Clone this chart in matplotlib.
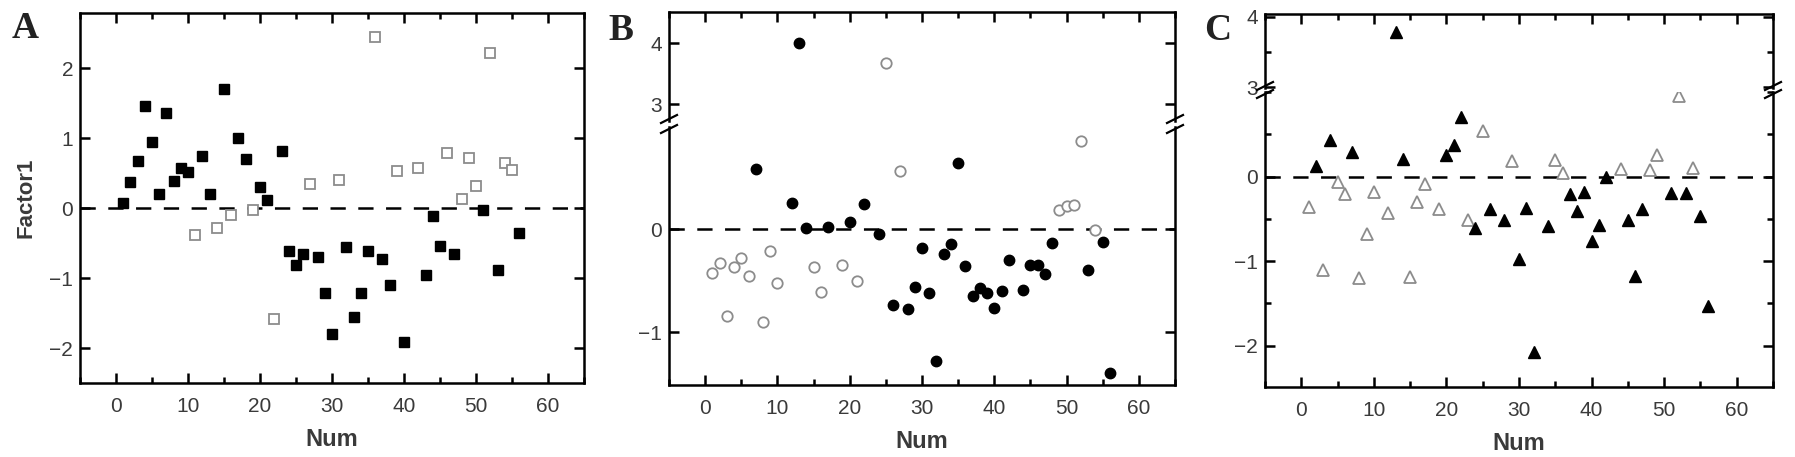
import matplotlib
matplotlib.use("Agg")
import matplotlib.pyplot as plt
from matplotlib.ticker import MultipleLocator, FixedLocator
from matplotlib.lines import Line2D

# ---------------- data ----------------
A_filled_x = [1, 2, 3, 4, 5, 6, 7, 8, 9, 10, 12, 13, 15, 17, 18, 20, 21, 23, 24, 25,
              26, 28, 29, 30, 32, 33, 34, 35, 37, 38, 40, 43, 44, 45, 47, 51, 53, 56]
A_filled_y = [0.08, 0.38, 0.67, 1.46, 0.95, 0.20, 1.36, 0.39, 0.57, 0.51, 0.74, 0.20, 1.71,
              1.00, 0.70, 0.30, 0.12, 0.82, -0.61, -0.82, -0.66, -0.70, -1.22, -1.80, -0.55,
              -1.55, -1.21, -0.61, -0.72, -1.10, -1.91, -0.96, -0.11, -0.54, -0.66, -0.02,
              -0.88, -0.36]
A_open_x = [11, 14, 16, 19, 22, 27, 31, 36, 39, 42, 46, 48, 49, 50, 52, 54, 55]
A_open_y = [-0.38, -0.28, -0.10, -0.03, -1.59, 0.34, 0.40, 2.45, 0.53, 0.57, 0.79, 0.13,
            0.71, 0.31, 2.22, 0.64, 0.54]

B_filled_x = [7, 12, 13, 14, 17, 20, 22, 24, 26, 28, 29, 30, 31, 32, 33, 34, 35, 36, 37, 38,
              39, 40, 41, 42, 44, 45, 46, 47, 48, 53, 55, 56]
B_filled_y = [0.58, 0.25, 4.00, 0.01, 0.02, 0.07, 0.24, -0.05, -0.73, -0.77, -0.56, -0.18,
              -0.62, -1.28, -0.24, -0.14, 0.64, -0.36, -0.65, -0.57, -0.62, -0.76, -0.60,
              -0.30, -0.59, -0.35, -0.35, -0.43, -0.13, -0.40, -0.12, -1.39]
B_open_x = [1, 2, 3, 4, 5, 6, 8, 9, 10, 15, 16, 19, 21, 25, 27, 49, 50, 51, 52, 54]
B_open_y = [-0.42, -0.33, -0.84, -0.37, -0.28, -0.45, -0.90, -0.21, -0.52, -0.37, -0.61,
            -0.35, -0.50, 3.67, 0.56, 0.19, 0.22, 0.23, 0.85, -0.01]

C_filled_x = [2, 4, 7, 13, 14, 20, 21, 22, 24, 26, 28, 30, 31, 32, 34, 37, 38, 39, 40, 41,
              42, 45, 46, 47, 51, 53, 55, 56]
C_filled_y = [0.13, 0.43, 0.29, 3.79, 0.21, 0.25, 0.37, 0.71, -0.61, -0.38, -0.51, -0.97,
              -0.37, -2.08, -0.58, -0.21, -0.41, -0.18, -0.76, -0.57, -0.01, -0.51, -1.18,
              -0.38, -0.20, -0.19, -0.47, -1.53]
C_open_x = [1, 3, 5, 6, 8, 9, 10, 12, 15, 16, 17, 19, 23, 25, 29, 35, 36, 44, 48, 49, 52, 54]
C_open_y = [-0.36, -1.11, -0.07, -0.21, -1.20, -0.68, -0.18, -0.43, -1.19, -0.30, -0.09,
            -0.38, -0.51, 0.54, 0.18, 0.20, 0.04, 0.09, 0.08, 0.25, 0.95, 0.10]

x_ticks = [0, 10, 20, 30, 40, 50, 60]
panel_letters = ["A", "B", "C"]
x_label = "Num"
y_label = "Factor1"

# ---------------- style ----------------
plt.rcParams["font.family"] = ["Liberation Sans", "DejaVu Sans"]
plt.rcParams["lines.scale_dashes"] = False
TXT = "#3a3a3a"
GRAY = "#8c8c8c"
LW = 1.8
W, H = 1795, 457
TICK_FS = 15
LABEL_FS = 17

fig = plt.figure(figsize=(W / 100, H / 100), dpi=100)


def rect(x0, x1, ytop, ybot):
    return [x0 / W, 1 - ybot / H, (x1 - x0) / W, (ybot - ytop) / H]


def style(ax, bottom=True, top=True, yminor=None):
    for s in ax.spines.values():
        s.set_linewidth(LW)
    ax.set_xlim(-5, 65)
    ax.xaxis.set_major_locator(FixedLocator(x_ticks))
    ax.xaxis.set_minor_locator(MultipleLocator(5))
    if yminor:
        ax.yaxis.set_minor_locator(MultipleLocator(yminor))
    ax.tick_params(which="both", direction="in", top=top, bottom=bottom, left=True,
                   right=True, width=LW, colors="black", labelcolor=TXT)
    ax.tick_params(which="major", length=7)
    ax.tick_params(which="minor", length=4)
    ax.tick_params(axis="x", labelsize=TICK_FS, pad=10, labelbottom=bottom)
    ax.tick_params(axis="y", labelsize=TICK_FS, pad=5)


def draw(ax, fx, fy, ox, oy, marker, ms):
    ax.plot(ox, oy, linestyle="none", marker=marker, ms=ms, mfc="white", mec=GRAY,
            mew=1.3, zorder=3)
    ax.plot(fx, fy, linestyle="none", marker=marker, ms=ms, mfc="black", mec="black",
            mew=1.0, zorder=4)


def dashed(ax):
    ax.axhline(0, color="black", lw=LW, dashes=(11, 9), zorder=2)


def xlab(ax):
    ax.set_xlabel(x_label, fontsize=LABEL_FS, fontweight="bold", color=TXT, labelpad=9)


def breakmarks(x0, x1, y_px):
    dx, dy = 8, 4
    for xp in (x0, x1):
        for yp in y_px:
            fig.add_artist(Line2D([(xp - dx) / W, (xp + dx) / W],
                                  [1 - (yp + dy) / H, 1 - (yp - dy) / H],
                                  transform=fig.transFigure, color="black", lw=1.6))


# ---------------- panel A ----------------
axA = fig.add_axes(rect(80, 584, 13, 383))
draw(axA, A_filled_x, A_filled_y, A_open_x, A_open_y, "s", 7)
dashed(axA)
axA.set_ylim(-2.5, 2.79)
axA.yaxis.set_major_locator(FixedLocator([-2, -1, 0, 1, 2]))
style(axA)
xlab(axA)
axA.set_ylabel(y_label, fontsize=16, fontweight="bold", color=TXT, labelpad=9)

# ---------------- panel B ----------------
bx0, bx1 = 669, 1175
axBu = fig.add_axes(rect(bx0, bx1, 12, 121))
axBl = fig.add_axes(rect(bx0, bx1, 127, 385))
for ax in (axBu, axBl):
    draw(ax, B_filled_x, B_filled_y, B_open_x, B_open_y, "o", 7.5)
dashed(axBl)
axBu.set_ylim(2.73, 4.51)
axBl.set_ylim(-1.51, 0.99)
axBu.yaxis.set_major_locator(FixedLocator([3, 4]))
axBl.yaxis.set_major_locator(FixedLocator([-1, 0]))
style(axBu, bottom=False, top=True)
style(axBl, bottom=True, top=False)
axBu.spines["bottom"].set_visible(False)
axBl.spines["top"].set_visible(False)
xlab(axBl)
breakmarks(bx0, bx1, [119, 129])

# ---------------- panel C ----------------
cx0, cx1 = 1265, 1773
axCu = fig.add_axes(rect(cx0, cx1, 14, 88))
axCl = fig.add_axes(rect(cx0, cx1, 92, 387))
for ax in (axCu, axCl):
    draw(ax, C_filled_x, C_filled_y, C_open_x, C_open_y, "^", 8.5)
dashed(axCl)
axCu.set_ylim(2.99, 4.04)
axCl.set_ylim(-2.49, 1.0)
axCu.yaxis.set_major_locator(FixedLocator([3, 4]))
axCl.yaxis.set_major_locator(FixedLocator([-2, -1, 0]))
style(axCu, bottom=False, top=True, yminor=0.5)
style(axCl, bottom=True, top=False, yminor=0.5)
axCu.spines["bottom"].set_visible(False)
axCl.spines["top"].set_visible(False)
xlab(axCl)
breakmarks(cx0, cx1, [86, 94])

# ---------------- panel letters ----------------
for letter, xp, yp in zip(panel_letters, [12, 608, 1204], [29, 30, 30]):
    fig.text(xp / W, 1 - yp / H, letter, fontsize=27, fontweight="bold",
             family=["Liberation Serif", "DejaVu Serif"], ha="left", va="center",
             color="#222222")

fig.savefig("out.png", dpi=100)
